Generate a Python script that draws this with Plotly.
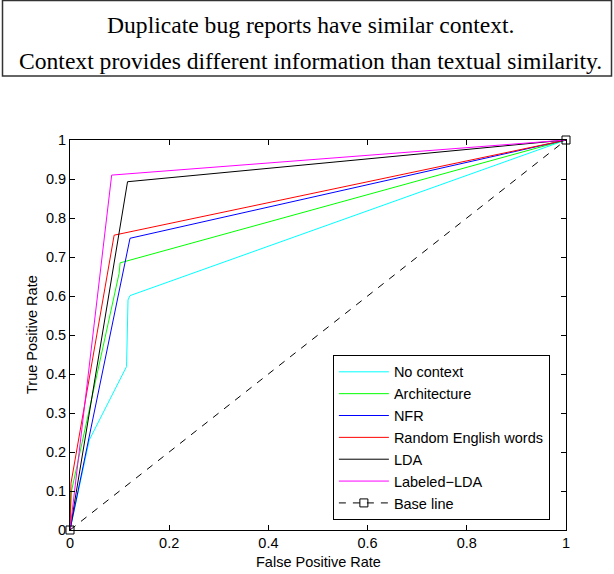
import plotly.graph_objects as go

# ---- data ----
series_names = ["No context", "Architecture", "NFR", "Random English words", "LDA", "Labeled\u2212LDA"]
series_colors = ["#00FFFF", "#00FF00", "#0000FF", "#FF0000", "#000000", "#FF00FF"]

no_context_fpr = [0, 0.039, 0.114, 0.117, 0.121, 1]
no_context_tpr = [0, 0.231, 0.419, 0.59, 0.601, 1]

architecture_fpr = [0, 0.003, 0.099, 0.101, 1]
architecture_tpr = [0, 0.10, 0.658, 0.685, 1]

nfr_fpr = [0, 0.121, 1]
nfr_tpr = [0, 0.748, 1]

random_words_fpr = [0, 0.002, 0.089, 1]
random_words_tpr = [0, 0.12, 0.756, 1]

lda_fpr = [0, 0.116, 1]
lda_tpr = [0, 0.893, 1]

labeled_lda_fpr = [0, 0.084, 1]
labeled_lda_tpr = [0, 0.910, 1]

baseline_fpr = [0, 1]
baseline_tpr = [0, 1]

x_ticks = [0, 0.2, 0.4, 0.6, 0.8, 1]
x_tick_labels = ["0", "0.2", "0.4", "0.6", "0.8", "1"]
y_ticks = [0, 0.1, 0.2, 0.3, 0.4, 0.5, 0.6, 0.7, 0.8, 0.9, 1]
y_tick_labels = ["0", "0.1", "0.2", "0.3", "0.4", "0.5", "0.6", "0.7", "0.8", "0.9", "1"]

title_lines = ["Duplicate bug reports have similar context.",
               "Context provides different information than textual similarity."]

# ---- figure ----
xs = [no_context_fpr, architecture_fpr, nfr_fpr, random_words_fpr, lda_fpr, labeled_lda_fpr]
ys = [no_context_tpr, architecture_tpr, nfr_tpr, random_words_tpr, lda_tpr, labeled_lda_tpr]

fig = go.Figure()
for name, color, x, y in zip(series_names, series_colors, xs, ys):
    fig.add_trace(go.Scatter(x=x, y=y, mode="lines", name=name,
                             line=dict(color=color, width=1)))

fig.add_trace(go.Scatter(x=baseline_fpr, y=baseline_tpr, mode="lines+markers", name="Base line",
                         line=dict(color="black", width=1, dash="7px,7px"),
                         marker=dict(symbol="square-open", size=8, color="black",
                                     line=dict(width=1, color="black")),
                         cliponaxis=False))

arial = "Liberation Sans, Arial, sans-serif"
fig.update_layout(
    width=614, height=574,
    margin=dict(l=70, r=48, t=140, b=44),
    paper_bgcolor="white", plot_bgcolor="white",
    font=dict(family=arial, size=14.5, color="black"),
    showlegend=True,
    legend=dict(x=0.53, y=0.449, xanchor="left", yanchor="top",
                bordercolor="black", borderwidth=1, bgcolor="white",
                font=dict(family=arial, size=14.5, color="black"),
                itemwidth=50, tracegroupgap=0),
    xaxis=dict(range=[0, 1], tickvals=x_ticks, ticktext=x_tick_labels,
               showgrid=False, zeroline=False, showline=True, linecolor="black",
               linewidth=1, mirror="ticks", ticks="inside", ticklen=5,
               tickcolor="black", tickfont=dict(size=14.5)),
    yaxis=dict(range=[0, 1], tickvals=y_ticks, ticktext=y_tick_labels,
               showgrid=False, zeroline=False, showline=True, linecolor="black",
               linewidth=1, mirror="ticks", ticks="inside", ticklen=5,
               tickcolor="black", tickfont=dict(size=14.5)),
)

# axis titles
fig.add_annotation(text="False Positive Rate", xref="paper", yref="paper",
                   x=0.5, y=-0.082, showarrow=False, yanchor="middle",
                   font=dict(family=arial, size=14.5))
fig.add_annotation(text="True Positive Rate", xref="paper", yref="paper",
                   x=-0.0766, y=0.5, showarrow=False, textangle=-90, xanchor="center",
                   font=dict(family=arial, size=14.5))

# title box + text
fig.add_shape(type="rect", xref="paper", yref="paper",
              x0=(2.5 - 70) / 496, x1=(611.5 - 70) / 496,
              y0=(530 - 76) / 390, y1=(530 - 0.5) / 390,
              line=dict(color="#333333", width=1.5), fillcolor="rgba(0,0,0,0)")
times = "Liberation Serif, Times New Roman, serif"
for line, py in zip(title_lines, [25.5, 60.5]):
    fig.add_annotation(text=line, xref="paper", yref="paper",
                       x=(310.5 - 70) / 496, y=(530 - py) / 390, showarrow=False,
                       xanchor="center", yanchor="middle",
                       font=dict(family=times, size=23.6, color="black"))

fig.write_html("out.html")
